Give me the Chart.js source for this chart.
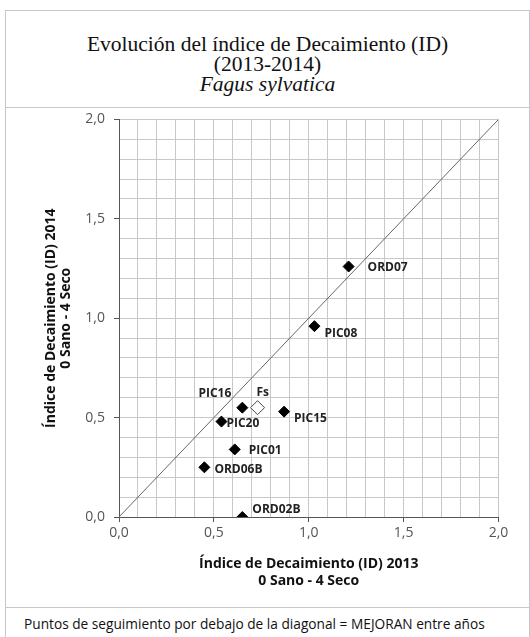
<!DOCTYPE html>
<html>
<head>
<meta charset="utf-8">
<script src="https://cdn.jsdelivr.net/npm/chart.js@4/dist/chart.umd.min.js"></script>
<style>
  body { margin: 0; background: #fff; }
  .frame { position: absolute; left: 5px; top: 10px; width: 523px; height: 640px; border: 1.5px solid #c8c8c8; }
  .title { position: absolute; left: 0; top: 0; width: 523px; height: 96px; border-bottom: 1.5px solid #c8c8c8;
    font-family: "Liberation Serif", serif; font-size: 21.5px; color: #111; text-align: center; line-height: 20px; }
  .title div:first-child { margin-top: 23px; }
  .foot { position: absolute; left: 0; top: 596px; width: 523px; border-top: 1.5px solid #c8c8c8;
    font-family: "Open Sans", sans-serif; font-size: 13.7px; color: #111; padding: 6px 0 0 18px; }
  canvas { position: absolute; left: 0; top: 91px; }
</style>
</head>
<body>
<div class="frame">
  <div class="title">
    <div>Evolución del índice de Decaimiento (ID)</div>
    <div>(2013-2014)</div>
    <div><i>Fagus sylvatica</i></div>
  </div>
  <canvas id="myChart" width="523" height="494"></canvas>
  <div class="foot">Puntos de seguimiento por debajo de la diagonal = MEJORAN entre años</div>
</div>
<script>
// plot points (ID 2013 vs ID 2014)
const sites = ['ORD07', 'PIC08', 'PIC16', 'PIC15', 'PIC20', 'PIC01', 'ORD06B', 'ORD02B'];
const id2013 = [1.21, 1.03, 0.65, 0.87, 0.54, 0.61, 0.45, 0.65];
const id2014 = [1.26, 0.96, 0.55, 0.53, 0.48, 0.34, 0.25, 0.00];
// species mean
const meanName = ['Fs'];
const mean2013 = [0.73];
const mean2014 = [0.55];
// 1:1 line
const diagonal = [0, 2];
const tickLabels = ['0,0', '0,5', '1,0', '1,5', '2,0'];

// label offsets in pixels from the marker (dx, dy, align)
const labelOffsets = {
  ORD07: [19, 1, 'left'], PIC08: [10, 7, 'left'], PIC16: [-11, -14, 'right'],
  PIC15: [10, 7, 'left'], PIC20: [5, 2, 'left'], PIC01: [14, 1, 'left'],
  ORD06B: [10, 2, 'left'], ORD02B: [10, -7, 'left'], Fs: [-1, -15, 'left'],
};

const isMajor = (v) => Math.abs(v * 2 - Math.round(v * 2)) < 1e-6;
const tickText = (v) => isMajor(v) ? tickLabels[Math.round(v * 2)] : '';

const pointLabels = {
  id: 'pointLabels',
  afterDatasetsDraw(chart) {
    const ctx = chart.ctx;
    ctx.save();
    ctx.font = 'bold 12px "Open Sans", sans-serif';
    ctx.fillStyle = '#222';
    ctx.textBaseline = 'middle';
    [1, 2].forEach((di) => {
      const names = di === 1 ? sites : meanName;
      chart.getDatasetMeta(di).data.forEach((el, i) => {
        const off = labelOffsets[names[i]];
        ctx.textAlign = off[2];
        ctx.fillText(names[i], el.x + off[0], el.y + off[1]);
      });
    });
    ctx.restore();
  }
};

const gridOpts = {
  color: '#c8c8c8',
  tickColor: (c) => (c.tick && isMajor(c.tick.value)) ? '#555' : 'rgba(0,0,0,0)',
  tickLength: 5,
};

const ctx = document.getElementById('myChart').getContext('2d');
new Chart(ctx, {
  type: 'scatter',
  data: {
    datasets: [
      {
        label: '1:1',
        data: diagonal.map((v) => ({ x: v, y: v })),
        showLine: true,
        borderColor: '#666',
        borderWidth: 1,
        pointRadius: 0,
      },
      {
        label: 'Puntos',
        data: sites.map((s, i) => ({ x: id2013[i], y: id2014[i] })),
        pointStyle: 'rectRot',
        pointRadius: 5.5,
        backgroundColor: '#000',
        borderColor: '#000',
        borderWidth: 1,
      },
      {
        label: 'Fs',
        data: meanName.map((s, i) => ({ x: mean2013[i], y: mean2014[i] })),
        pointStyle: 'rectRot',
        pointRadius: 7,
        backgroundColor: '#fff',
        borderColor: '#444',
        borderWidth: 1,
      },
    ],
  },
  options: {
    responsive: false,
    animation: false,
    layout: { padding: { left: 0, right: 30.5, top: 11, bottom: 0 } },
    plugins: { legend: { display: false }, tooltip: { enabled: false } },
    scales: {
      x: {
        min: 0, max: 2,
        afterFit: (s) => { s.height = 79; },
        ticks: { stepSize: 0.1, maxTicksLimit: 50, autoSkip: false, maxRotation: 0, callback: tickText,
          color: '#555', font: { family: 'Open Sans', size: 14 }, padding: 3 },
        grid: gridOpts,
        border: { color: '#555', width: 1 },
        title: {
          display: true,
          text: ['Índice de Decaimiento (ID) 2013', '0 Sano - 4 Seco'],
          color: '#111',
          font: { family: 'Open Sans', size: 14, weight: 'bold', lineHeight: 1.2 },
          padding: { bottom: 7 },
        },
      },
      y: {
        min: 0, max: 2,
        afterFit: (s) => { s.width = 113; },
        ticks: { stepSize: 0.1, maxTicksLimit: 50, autoSkip: false, callback: tickText,
          color: '#555', font: { family: 'Open Sans', size: 14 }, padding: 9 },
        grid: gridOpts,
        border: { color: '#555', width: 1 },
        title: {
          display: true,
          text: ['Índice de Decaimiento (ID) 2014', '0 Sano - 4 Seco'],
          color: '#111',
          font: { family: 'Open Sans', size: 14, weight: 'bold', lineHeight: 1.1 },
          padding: { top: 37 },
        },
      },
    },
  },
  plugins: [pointLabels],
});
</script>
</body>
</html>
